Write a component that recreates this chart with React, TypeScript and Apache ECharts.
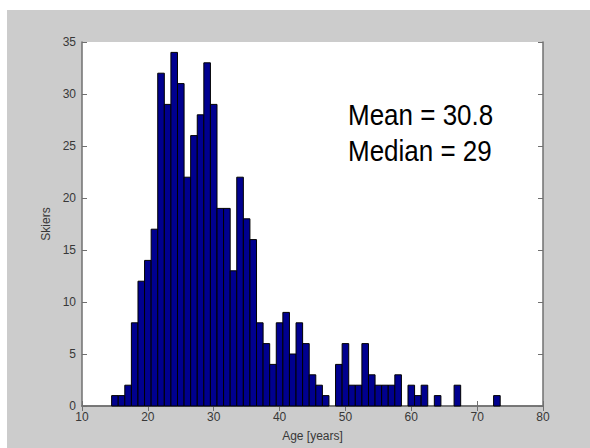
import React, { useEffect, useRef } from "react";
import * as echarts from "echarts";

const ages = [15, 16, 17, 18, 19, 20, 21, 22, 23, 24, 25, 26, 27, 28, 29, 30, 31, 32, 33, 34, 35, 36, 37, 38, 39, 40, 41, 42, 43, 44, 45, 46, 47, 48, 49, 50, 51, 52, 53, 54, 55, 56, 57, 58, 59, 60, 61, 62, 63, 64, 65, 66, 67, 68, 69, 70, 71, 72, 73];
const skiers = [1, 1, 2, 8, 12, 14, 17, 32, 29, 34, 31, 22, 26, 28, 33, 29, 19, 19, 13, 22, 18, 16, 8, 6, 4, 8, 9, 5, 8, 6, 3, 2, 1, 0, 4, 6, 2, 2, 6, 3, 2, 2, 2, 3, 0, 2, 1, 2, 0, 1, 0, 0, 2, 0, 0, 0, 0, 0, 1];
const statLines = ["Mean = 30.8", "Median = 29"];
const xLabel = "Age [years]";
const yLabel = "Skiers";

const FONT = "'Liberation Sans', Arial, sans-serif";
const AXIS_COLOR = "#707070";
const LABEL_COLOR = "#383838";

export default function App() {
  const ref = useRef<HTMLDivElement>(null);

  useEffect(() => {
    if (!ref.current) return;
    const chart = echarts.init(ref.current, undefined, { renderer: "svg" });
    const data = ages.map((a, i) => [a, skiers[i]]);

    const axisLine = { show: true, lineStyle: { color: AXIS_COLOR, width: 1.5 } };
    const axisTick = { show: true, inside: true, length: 5, lineStyle: { color: AXIS_COLOR, width: 1 } };
    const axisLabel = { color: LABEL_COLOR, fontSize: 12, fontFamily: FONT, showMinLabel: true, showMaxLabel: true };

    chart.setOption({
      animation: false,
      backgroundColor: "#ffffff",
      graphic: [
        { type: "rect", z: -10, silent: true, shape: { x: 7, y: 10, width: 590, height: 448 }, style: { fill: "#cccccc" } },
        ...statLines.map((t, i) => ({
          type: "text",
          x: 348,
          y: 115 + i * 36,
          scaleY: 1.12,
          z: 100,
          style: { text: t, x: 0, y: 0, verticalAlign: "middle", align: "left", fill: "#000000", font: `26px ${FONT}` },
        })),
      ],
      grid: { left: 82, right: 47, top: 42, bottom: 42, show: true, backgroundColor: "#ffffff", borderWidth: 0 },
      xAxis: [
        {
          type: "value", min: 10, max: 80, interval: 10, position: "bottom",
          name: xLabel, nameLocation: "middle", nameGap: 24,
          nameTextStyle: { color: LABEL_COLOR, fontSize: 12, fontFamily: FONT },
          axisLine, axisTick, axisLabel: { ...axisLabel, margin: 5 }, splitLine: { show: false },
        },
        {
          type: "value", min: 10, max: 80, interval: 10, position: "top",
          axisLine, axisTick, axisLabel: { show: false }, splitLine: { show: false },
        },
      ],
      yAxis: [
        {
          type: "value", min: 0, max: 35, interval: 5, position: "left",
          name: yLabel, nameLocation: "middle", nameGap: 30,
          nameTextStyle: { color: LABEL_COLOR, fontSize: 12, fontFamily: FONT },
          axisLine, axisTick, axisLabel: { ...axisLabel, margin: 6 }, splitLine: { show: false },
        },
        {
          type: "value", min: 0, max: 35, interval: 5, position: "right",
          axisLine, axisTick, axisLabel: { show: false }, splitLine: { show: false },
        },
      ],
      series: [
        {
          type: "custom",
          xAxisIndex: 0,
          yAxisIndex: 0,
          encode: { x: 0, y: 1 },
          data,
          renderItem: (params: any, api: any) => {
            const x = api.value(0);
            const y = api.value(1);
            if (!y) return;
            const p0 = api.coord([x - 0.5, y]);
            const p1 = api.coord([x + 0.5, 0]);
            return {
              type: "rect",
              shape: { x: p0[0], y: p0[1], width: p1[0] - p0[0], height: p1[1] - p0[1] },
              style: { fill: "#00008f", stroke: "#000000", lineWidth: 1 },
            };
          },
        },
      ],
    });

    return () => chart.dispose();
  }, []);

  return <div ref={ref} style={{ position: "fixed", left: 0, top: 0, width: 590, height: 448 }} />;
}
